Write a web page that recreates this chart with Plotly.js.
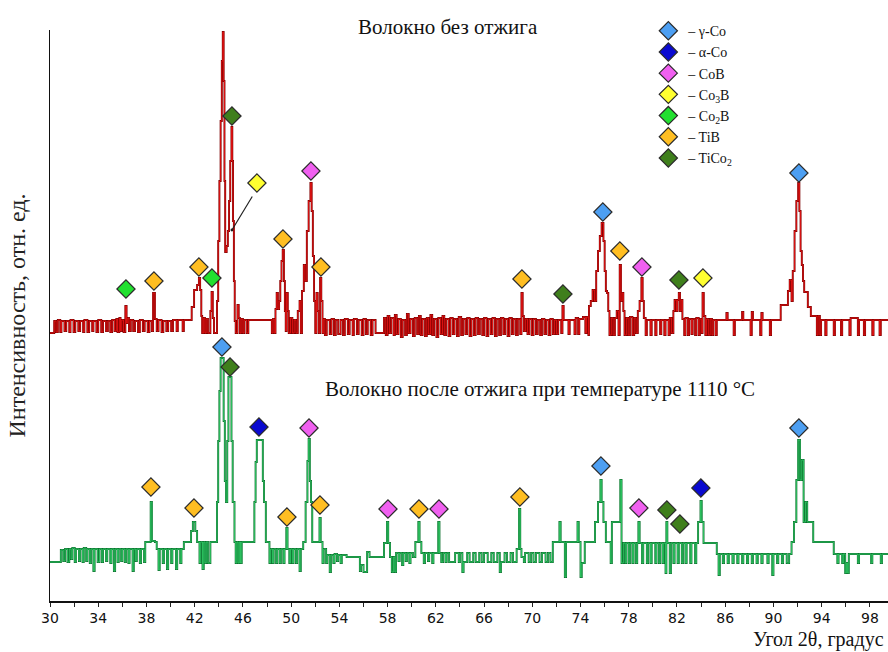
<!DOCTYPE html>
<html>
<head>
<meta charset="utf-8">
<script src="https://cdn.plot.ly/plotly-3.0.1.min.js"></script>
<style>html,body{margin:0;padding:0;background:#fff;}#chart{width:888px;height:652px;}</style>
</head>
<body>
<div id="chart"></div>
<script>
// Diffraction pattern before annealing (2θ, intensity in plot units)
const redPoints = [
[30.0,268],[30.35,280],[30.5,269],[30.65,281],[30.85,269],[30.95,280],[31.2,270],[31.35,280],[31.6,269],[31.7,281],[31.95,269],[32.1,280],[32.35,270],[32.5,280],[32.75,269],[32.85,281],[33.1,269],[33.25,280],[33.5,270],[33.6,280],[33.85,269],[34.0,281],[34.25,269],[34.4,280],[34.65,270],[34.8,280],[35.0,269],[35.15,281],[35.35,270],[35.5,282],[35.6,269],[35.75,283],[35.85,270],[35.95,281],[36.1,269],[36.25,295],[36.35,278],[36.45,283],[36.55,270],[36.7,281],[36.9,270],[37.05,280],[37.3,269],[37.45,281],[37.7,270],[37.85,280],[38.1,269],[38.25,280],[38.45,270],[38.55,308],[38.7,282],[38.85,270],[39.0,281],[39.25,269],[39.4,280],[39.65,270],[39.8,280],[40.05,270],[40.2,281],[40.5,270],[40.6,281],[41.0,270],[41.1,281],
[41.5,281],[41.75,294],[41.95,311],[42.2,316],[42.35,323],[42.45,311],[42.55,285],[42.62,268],[42.75,283],[42.85,268],[42.95,282],[43.1,268],[43.3,290],[43.4,309],[43.5,283],[43.6,268],
[43.85,300],[43.95,360],[44.05,420],[44.15,480],[44.25,540],[44.33,569],[44.4,520],[44.47,420],[44.53,349],[44.65,355],[44.75,370],[44.85,400],[44.95,440],[45.05,474],[45.12,440],[45.18,380],[45.25,320],[45.32,280],[45.4,268],[45.55,296],[45.65,283],[45.75,268],[45.85,282],[46.0,268],[46.1,281],[46.3,268],[46.45,281],
[48.3,281],[48.4,268],[48.5,282],[48.6,268],[48.7,292],[48.8,308],[48.9,292],[49.0,300],[49.1,320],[49.2,340],[49.3,351],[49.4,320],[49.48,290],[49.55,270],[49.62,308],[49.72,290],[49.8,268],[49.95,283],[50.1,268],[50.25,281],[50.4,268],[50.55,290],[50.7,300],[50.8,268],[50.9,310],[51.05,336],[51.15,320],[51.3,370],[51.45,400],[51.6,418],[51.7,390],[51.8,345],[51.9,300],[52.0,268],[52.1,308],[52.2,290],[52.3,268],[52.4,323],[52.5,300],[52.6,268],[52.7,282],
[52.8,266],[52.95,281],[53.2,267],[53.35,282],[53.55,266],[53.7,281],[53.9,267],[54.1,281],[54.3,266],[54.45,282],[54.7,267],[54.85,281],[55.1,266],[55.2,282],[55.45,267],[55.6,281],[55.85,266],[56.0,282],[56.2,267],[56.35,281],[56.6,266],[56.75,281],[57.0,268],[57.6,268],[57.7,283],[57.85,266],[58.0,285],[58.15,268],[58.3,283],[58.5,266],[58.6,286],[58.75,267],[58.9,282],[59.1,264],[59.25,281],[59.45,266],[59.6,287],[59.75,268],[59.9,282],[60.1,265],[60.25,283],[60.45,267],[60.6,285],[60.75,266],[60.9,282],[61.1,265],[61.25,283],[61.4,267],[61.55,286],[61.7,266],[61.85,282],[62.05,264],[62.2,283],[62.4,267],[62.55,285],[62.7,266],[62.85,282],[63.05,265],[63.2,283],[63.4,267],[63.55,282],[63.75,265],[63.9,284],[64.1,266],[64.25,282],[64.45,267],[64.6,283],[64.8,265],[64.95,282],[65.15,266],[65.3,283],[65.5,267],[65.65,282],[65.85,266],[66.0,283],[66.2,265],[66.35,282],[66.55,267],[66.7,283],[66.9,265],[67.05,282],[67.25,266],[67.4,283],[67.6,267],[67.75,282],[67.95,265],[68.1,283],[68.3,267],[68.45,282],[68.65,266],[68.8,282],[69.0,267],[69.1,308],[69.2,285],[69.3,270],[69.45,282],
[69.6,267],[69.75,282],[69.95,266],[70.1,282],[70.3,267],[70.45,281],[70.65,266],[70.8,282],[71.0,267],[71.15,281],[71.35,266],[71.5,282],[71.7,267],[71.85,281],[72.0,267],[72.15,281],[72.4,268],[72.5,295],[72.6,281],[73.0,267],[73.1,281],[73.5,267],[73.6,283],[73.8,267],[73.9,282],[74.2,284],[74.4,268],[74.5,284],[74.65,266],[74.7,295],[74.85,300],[75.0,311],[75.15,300],[75.3,330],[75.45,350],[75.6,365],[75.75,378],[75.9,360],[76.0,330],[76.1,310],[76.2,308],[76.3,290],[76.4,266],[76.55,283],[76.7,266],[76.85,283],[77.0,290],[77.15,266],[77.25,336],[77.35,300],[77.45,308],[77.55,290],[77.65,266],[77.8,283],[77.95,266],[78.1,284],[78.3,266],[78.45,283],[78.6,268],[78.75,290],[78.9,300],[79.05,323],[79.15,300],[79.25,283],[79.4,266],[79.5,281],
[79.8,266],[79.9,281],[80.2,266],[80.3,281],[80.6,267],[80.7,281],[80.95,266],[81.05,281],[81.3,266],[81.4,283],[81.55,268],[81.7,290],[81.8,301],[81.95,290],[82.05,301],[82.15,308],[82.25,290],[82.35,301],[82.45,282],[82.6,266],[82.7,283],[82.9,266],[83.0,282],[83.2,267],[83.3,282],[83.5,266],[83.6,283],[83.8,266],[83.9,282],[84.05,268],[84.12,308],[84.22,285],[84.35,266],[84.45,282],[84.6,266],[84.75,282],[84.9,266],[85.0,281],[85.2,266],[85.3,281],[86.1,288],[86.2,281],[86.7,266],[86.8,281],[87.4,289],[87.5,281],[88.1,266],[88.2,289],[88.3,281],[88.9,266],[89.0,288],[89.1,281],[89.7,266],[89.8,281],[90.6,296],[91.2,310],[91.35,321],[91.5,300],[91.6,330],[91.75,370],[91.9,400],[92.05,418],[92.15,390],[92.25,350],[92.35,336],[92.45,320],[92.55,309],[92.85,294],[93.1,285],[93.6,266],[93.7,285],[93.85,266],[93.95,281],[94.3,266],[94.4,281],[95.0,266],[95.1,281],[95.6,266],[95.7,281],[96.3,266],[96.4,283],[97.0,266],[97.1,281],[97.5,266],[97.6,281],[98.2,266],[98.3,281],[98.8,266],[98.9,281],[99.5,281]
];

// Diffraction pattern after annealing at 1110 °C
const greenPoints = [
[30.0,39],[30.9,51],[31.1,40],[31.25,52],[31.45,39],[31.6,52],[31.75,42],[31.85,53],[32.05,39],[32.15,52],[32.4,40],[32.5,52],[32.7,39],[32.8,53],[33.0,40],[33.1,52],[33.3,38],[33.4,52],[33.6,30],[33.7,52],[33.95,39],[34.1,52],[34.3,39],[34.4,52],[34.65,40],[34.75,52],[35.0,38],[35.1,52],[35.3,30],[35.4,52],[35.6,39],[35.7,52],[35.9,40],[36.0,52],[36.2,39],[36.3,52],[36.5,38],[36.6,52],[36.85,30],[36.95,52],[37.1,40],[37.2,52],[37.45,38],[37.55,52],[37.8,39],[37.9,59],[38.3,59],[38.35,99],[38.45,60],[38.7,59],[38.85,52],[39.0,31],[39.1,52],[39.35,38],[39.45,52],[39.7,32],[39.8,52],[40.05,38],[40.15,52],[40.45,32],[40.55,52],[40.8,38],[40.9,52],[41.1,59],[41.7,70],[41.85,79],[42.05,70],[42.2,59],[42.4,38],[42.5,59],[42.65,32],[42.75,59],[42.85,38],[42.95,59],[43.1,38],[43.3,59],
[43.85,99],[43.95,160],[44.05,210],[44.15,243],[44.3,243],[44.4,180],[44.5,120],[44.6,99],[44.7,160],[44.8,224],[44.95,224],[45.05,160],[45.15,99],[45.3,59],[45.4,38],[45.5,59],[45.6,38],[45.7,59],[45.8,38],[45.9,59],
[46.95,99],[47.05,139],[47.15,161],[47.55,161],[47.65,120],[47.75,99],[47.9,59],[48.2,38],[48.3,52],[48.45,38],[48.55,52],[48.75,38],[48.85,52],[49.05,38],[49.15,52],[49.35,38],[49.45,52],[49.6,73],[49.7,52],[49.85,38],[49.95,52],[50.1,38],[50.2,52],[50.4,38],[50.5,52],[50.7,30],[50.8,52],[51.0,59],[51.2,99],[51.35,140],[51.45,162],[51.55,120],[51.65,99],[51.75,59],[52.35,83],[52.45,59],[52.6,38],[52.7,52],
[52.9,38],[53.0,46],[53.2,29],[53.3,46],[53.5,38],[53.6,47],[53.8,40],[53.9,46],[54.1,38],[54.2,46],[54.6,44],[55.7,30],[55.8,36],[56.0,29],[56.3,49],[56.5,44],[57.7,58],[57.95,79],[58.05,58],[58.2,44],[58.35,29],[58.5,44],[58.6,29],[58.7,48],[58.9,40],[59.0,48],[59.2,36],[59.3,48],[59.5,40],[59.6,48],[59.8,38],[59.9,48],[60.1,44],[60.3,59],[60.55,79],[60.65,59],[60.8,48],[61.0,38],[61.1,48],[61.35,40],[61.45,48],[61.7,38],[61.8,48],[62.2,79],[62.3,48],[62.45,39],[62.6,48],[62.8,39],[62.9,48],[63.1,39],[63.6,48],[63.9,39],[64.0,48],[64.2,29],[64.3,39],[64.6,48],[64.8,39],[65.1,48],[65.3,39],[65.6,48],[65.8,39],[66.0,48],[66.3,39],[66.6,48],[66.8,39],[67.1,48],[67.3,29],[67.4,39],[67.7,48],[67.9,39],[68.2,48],[68.4,39],[68.7,52],[68.9,92],[69.0,52],[69.1,44],[69.3,39],[69.4,48],[69.7,39],[69.9,48],[70.1,39],[70.3,48],[70.6,39],[70.8,48],[71.1,39],[71.3,48],[71.5,39],[71.7,59],[72.25,79],[72.35,59],[72.7,24],[72.8,59],[73.75,79],[73.85,59],[74.0,24],[74.1,38],[74.35,59],
[75.2,79],[75.45,99],[75.65,121],[75.75,99],[75.9,79],[76.1,59],[76.5,38],[76.6,79],[77.3,121],[77.4,38],[77.55,58],[77.7,38],[77.8,58],[78.0,38],[78.1,58],[78.3,38],[78.4,58],[78.6,38],[78.7,58],[78.8,79],[78.9,58],[79.1,38],[79.2,58],[79.5,38],[79.6,58],[79.8,38],[79.9,58],[80.2,38],[80.3,58],[80.5,38],[80.6,58],[80.8,38],[80.9,58],[81.05,28],[81.12,79],[81.2,58],[81.4,28],[81.5,58],[81.7,38],[81.8,58],[82.05,38],[82.15,58],[82.4,38],[82.5,58],[82.7,38],[82.8,58],[83.1,38],[83.2,58],[83.5,38],[83.6,58],[83.75,79],[83.95,100],[84.05,79],[84.2,58],
[85.3,47],[85.45,26],[85.55,47],[85.8,38],[85.9,47],[86.2,38],[86.3,47],[86.6,38],[86.7,47],[87.0,38],[87.1,47],[87.4,38],[87.5,47],[87.8,38],[87.9,47],[88.2,38],[88.3,47],[88.6,38],[88.7,47],[89.0,38],[89.1,47],[89.5,38],[89.6,47],[89.9,26],[90.0,47],[90.3,38],[90.4,47],[90.7,38],[90.8,47],[91.1,38],[91.3,47],[91.5,59],[91.7,79],[91.9,121],[92.05,161],[92.2,121],[92.35,141],[92.5,79],[92.65,99],[92.8,79],[93.3,59],[95.0,47],[95.3,38],[95.4,47],[95.7,38],[95.8,47],[95.95,28],[96.05,38],[96.15,28],[96.25,47],[97.0,38],[97.1,47],[98.1,38],[98.2,47],[98.9,38],[99.0,47],[99.5,47]
];

// Phase identification marks: [phase, 2θ, mark height]
const redMarks = [
["Co2B",36.30,312],["TiB",38.62,320],["TiB",42.35,334],["Co2B",43.43,323],["gCo",44.35,583],["TiCo2",45.09,485],["Co3B",47.16,418],["TiB",49.32,362],["CoB",51.64,430],["TiB",52.47,334],
["TiB",69.14,322],["TiCo2",72.54,307],["gCo",75.85,389],["TiB",77.26,350],["CoB",79.09,334],["TiCo2",82.16,321],["Co3B",84.15,323],["gCo",92.11,428]
];
const greenMarks = [
["TiB",38.37,114],["TiB",41.94,93],["gCo",44.26,254],["TiCo2",44.93,234],["aCo",47.33,174],["TiB",49.65,84],["CoB",51.48,173],["TiB",52.39,96],
["CoB",58.03,92],["TiB",60.60,92],["CoB",62.26,92],["TiB",68.97,104],["gCo",75.69,135],["CoB",78.84,93],["TiCo2",81.16,91],["TiCo2",82.24,77],["aCo",83.98,113],["gCo",92.11,173]
];

const phaseKeys   = ["gCo","aCo","CoB","Co3B","Co2B","TiB","TiCo2"];
const phaseLabels = ["– γ-Co","– α-Co","– CoB","– Co<sub>3</sub>B","– Co<sub>2</sub>B","– TiB","– TiCo<sub>2</sub>"];
const phaseColors = ["#4d9ff2","#0a0ad0","#f060f0","#ffff30","#22e030","#ffbe22","#3f7f1c"];

const xTicks = [30,34,38,42,46,50,54,58,62,66,70,74,78,82,86,90,94,98];

const traces = [];
function addPattern(points, dark, bright){
  const x = points.map(p=>p[0]), y = points.map(p=>p[1]);
  traces.push({type:'scatter',mode:'lines',x:x,y:y,line:{shape:'hv',color:dark,width:1.9},showlegend:false,hoverinfo:'skip'});
  traces.push({type:'scatter',mode:'lines',x:x,y:y,line:{shape:'hv',color:bright,width:0.9},showlegend:false,hoverinfo:'skip'});
}
addPattern(redPoints,'#7a0000','#e81414');
addPattern(greenPoints,'#0d6e2e','#30c864');

phaseKeys.forEach((k,i)=>{
  const all = redMarks.concat(greenMarks).filter(m=>m[0]===k);
  traces.push({type:'scatter',mode:'markers',name:phaseLabels[i],
    x:all.map(m=>m[1]),y:all.map(m=>m[2]),cliponaxis:false,
    marker:{symbol:'diamond',size:14,color:phaseColors[i],line:{color:'#2a2a2a',width:1.2}}});
});

const serif = 'Liberation Serif, Times New Roman, serif';
const layout = {
  width:888,height:652,
  margin:{l:50,r:0,t:30,b:51},
  paper_bgcolor:'#fff',plot_bgcolor:'#fff',
  showlegend:true,
  legend:{x:0.714,y:1.026,xanchor:'left',yanchor:'top',bgcolor:'rgba(0,0,0,0)',
    font:{family:serif,size:14,color:'#111'},itemwidth:30,tracegroupgap:0},
  xaxis:{range:[30,99.5],tickvals:xTicks,ticktext:xTicks.map(String),ticks:'outside',ticklen:4,tickcolor:'#222',
    minor:{dtick:2,tick0:30,ticks:'outside',ticklen:4,tickcolor:'#222'},
    showline:true,linecolor:'#111',linewidth:1.5,showgrid:false,zeroline:false,
    tickfont:{family:'DejaVu Sans, sans-serif',size:14,color:'#111'}},
  yaxis:{range:[0,571],showline:true,linecolor:'#111',linewidth:1.5,showgrid:false,zeroline:false,
    showticklabels:false,ticks:'',
    title:{text:'Интенсивность, отн. ед.',font:{family:serif,size:24,color:'#222'},standoff:16}},
  annotations:[
    {xref:'paper',yref:'paper',x:0.475,y:1.005,text:'Волокно без отжига',showarrow:false,xanchor:'center',yanchor:'middle',font:{family:serif,size:21,color:'#111'}},
    {xref:'paper',yref:'paper',x:0.585,y:0.371,text:'Волокно после отжига при температуре 1110 °C',showarrow:false,xanchor:'center',yanchor:'middle',font:{family:serif,size:21,color:'#111'}},
    {xref:'paper',yref:'paper',x:0.997,y:-0.0893,text:'Угол 2θ, градус',showarrow:false,xanchor:'right',yanchor:'bottom',borderpad:0,font:{family:serif,size:20,color:'#111'}},
    {x:45.09,y:371,ax:46.85,ay:406,xref:'x',yref:'y',axref:'x',ayref:'y',showarrow:true,arrowhead:6,arrowsize:0.6,arrowwidth:1.2,arrowcolor:'#222',text:''}
  ]
};
Plotly.newPlot('chart',traces,layout,{staticPlot:true,displayModeBar:false});
</script>
</body>
</html>
